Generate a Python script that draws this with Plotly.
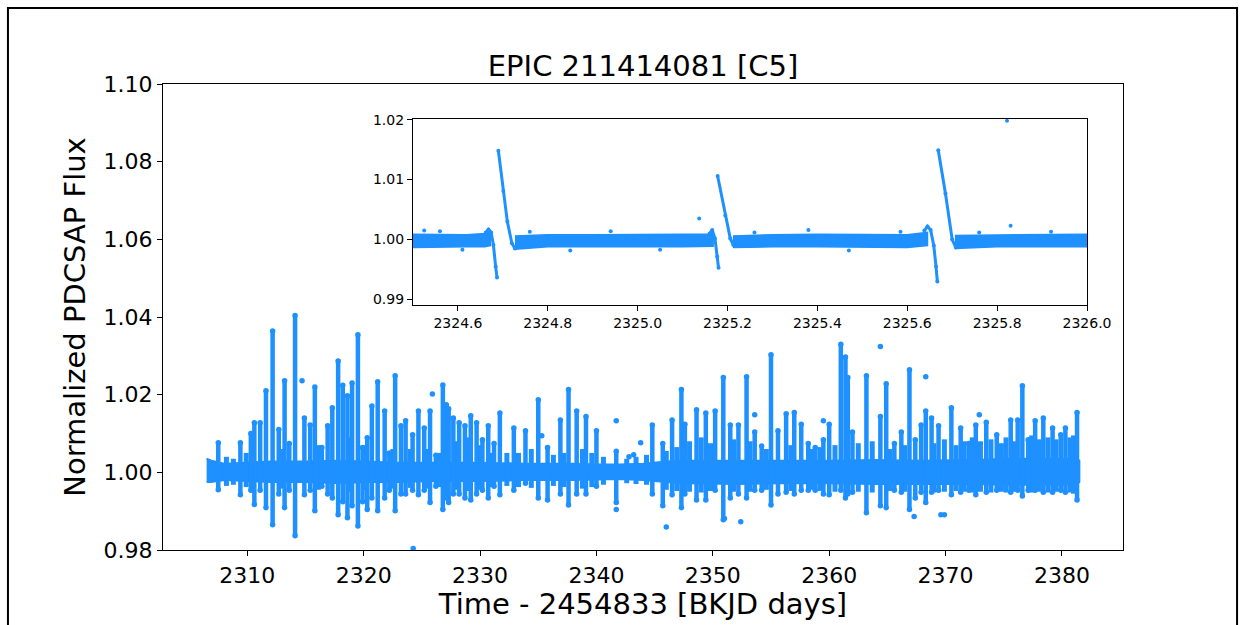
import plotly.graph_objects as go

BLUE = "#1E90FF"
FONT = "DejaVu Sans"

# ---------------- main light curve ----------------
# tall columns (pulses): time, upper and lower extent of flux
spike_time = [2307.5, 2309.4, 2310.3, 2310.6, 2311.1, 2311.6, 2312.17, 2312.7, 2313.2, 2313.6,
              2314.1, 2314.9, 2315.4, 2315.8, 2316.4, 2316.9, 2317.3, 2317.8, 2318.2, 2318.6,
              2319.0, 2319.5, 2319.9, 2320.3, 2320.7, 2321.2, 2321.8, 2322.2, 2322.7, 2323.2,
              2323.6, 2324.2, 2324.7, 2325.2, 2325.7, 2326.2, 2326.8, 2327.1, 2327.3, 2327.7,
              2328.2, 2328.7, 2329.2, 2329.7, 2330.2, 2330.7, 2331.2, 2331.7, 2332.9, 2333.9,
              2335.0, 2335.8, 2336.9, 2337.6, 2338.3, 2339.1, 2340.0, 2341.7, 2344.8, 2345.7,
              2346.5, 2347.3, 2347.6, 2348.6, 2349.4, 2350.2, 2350.9, 2351.5, 2352.2, 2352.9,
              2353.6, 2354.2, 2355.0, 2355.6, 2356.3, 2357.0, 2357.6, 2358.2, 2358.8, 2359.5,
              2360.0, 2361.0, 2361.4, 2361.6, 2362.0, 2363.2, 2364.4, 2364.9, 2365.6, 2366.2,
              2366.9, 2367.4, 2367.9, 2368.3, 2368.8, 2369.4, 2370.5, 2371.3, 2372.0, 2372.6,
              2373.5, 2374.4, 2375.6, 2376.2, 2376.6, 2377.1, 2377.7, 2378.4, 2379.2, 2379.9,
              2380.3, 2381.3]
spike_top = [1.0076, 1.0076, 1.0100, 1.0128, 1.0128, 1.0210, 1.0364, 1.0110, 1.0236, 1.0074,
             1.0404, 1.0140, 1.0122, 1.0220, 1.0064, 1.0120, 1.0166, 1.0287, 1.0224, 1.0197,
             1.0230, 1.0354, 1.0064, 1.0089, 1.0171, 1.0233, 1.0158, 1.0050, 1.0249, 1.0120,
             1.0133, 1.0097, 1.0158, 1.0114, 1.0158, 1.0044, 1.0225, 1.0174, 1.0164, 1.0140,
             1.0128, 1.0120, 1.0146, 1.0128, 1.0084, 1.0120, 1.0074, 1.0153, 1.0114, 1.0107,
             1.0187, 1.0064, 1.0135, 1.0213, 1.0158, 1.0144, 1.0107, 1.0054, 1.0122, 1.0074,
             1.0135, 1.0213, 1.0124, 1.0161, 1.0153, 1.0158, 1.0244, 1.0122, 1.0122, 1.0246,
             1.0104, 1.0068, 1.0303, 1.0107, 1.0151, 1.0154, 1.0124, 1.0074, 1.0064, 1.0084,
             1.0124, 1.0330, 1.0297, 1.0244, 1.0104, 1.0249, 1.0144, 1.0228, 1.0074, 1.0104,
             1.0264, 1.0084, 1.0122, 1.0158, 1.0140, 1.0120, 1.0166, 1.0114, 1.0074, 1.0122,
             1.0129, 1.0097, 1.0135, 1.0135, 1.0223, 1.0084, 1.0133, 1.0140, 1.0114, 1.0097,
             1.0114, 1.0154]
spike_bottom = [0.9955, 0.9942, 0.9954, 0.9917, 0.9954, 0.9909, 0.9865, 0.9944, 0.9909, 0.9954,
                0.9837, 0.9942, 0.9954, 0.9901, 0.9964, 0.9944, 0.9934, 0.9891, 0.9924, 0.9883,
                0.9914, 0.9862, 0.9924, 0.9904, 0.9934, 0.9901, 0.9934, 0.9954, 0.9901, 0.9944,
                0.9944, 0.9954, 0.9942, 0.9954, 0.9922, 0.9964, 0.9904, 0.9934, 0.9922, 0.9944,
                0.9944, 0.9934, 0.9929, 0.9944, 0.9954, 0.9934, 0.9964, 0.9942, 0.9954, 0.9972,
                0.9934, 0.9929, 0.9944, 0.9916, 0.9944, 0.9944, 0.9964, 0.9922, 0.9944, 0.9914,
                0.9942, 0.9909, 0.9944, 0.9929, 0.9929, 0.9954, 0.9878, 0.9934, 0.9944, 0.9934,
                0.9954, 0.9954, 0.9916, 0.9944, 0.9949, 0.9944, 0.9954, 0.9954, 0.9954, 0.9944,
                0.9942, 0.9954, 0.9934, 0.9944, 0.9949, 0.9896, 0.9914, 0.9909, 0.9954, 0.9949,
                0.9904, 0.9934, 0.9949, 0.9922, 0.9949, 0.9954, 0.9942, 0.9949, 0.9954, 0.9942,
                0.9949, 0.9954, 0.9949, 0.9954, 0.9939, 0.9954, 0.9954, 0.9949, 0.9949, 0.9954,
                0.9949, 0.9929]

# short columns that roughen the baseline
minor_time = [2308.2, 2308.8, 2309.9, 2312.9, 2316.1, 2318.9, 2320.0, 2322.5, 2324.0, 2325.5,
              2326.5, 2328.0, 2329.0, 2330.0, 2331.0, 2332.3, 2333.3, 2334.4, 2336.3, 2337.2,
              2338.8, 2339.6, 2340.6, 2342.6, 2343.4, 2344.3, 2346.0, 2346.9, 2348.0, 2349.0,
              2349.8, 2351.8, 2353.2, 2354.6, 2356.7, 2358.5, 2359.2, 2360.5, 2362.5, 2363.7,
              2365.2, 2366.5, 2369.0, 2369.9, 2370.9, 2371.6, 2372.3, 2373.0, 2373.9, 2374.8,
              2375.2, 2375.9, 2377.4, 2378.0, 2378.8, 2379.5, 2380.7, 2381.0]
minor_top = [1.0040, 1.0035, 1.0050, 1.0060, 1.0070, 1.0090, 1.0070, 1.0060, 1.0060, 1.0060,
             1.0050, 1.0080, 1.0090, 1.0070, 1.0050, 1.0050, 1.0050, 1.0060, 1.0045, 1.0050,
             1.0060, 1.0050, 1.0040, 1.0035, 1.0040, 1.0045, 1.0055, 1.0065, 1.0080, 1.0090,
             1.0075, 1.0085, 1.0080, 1.0060, 1.0070, 1.0060, 1.0065, 1.0070, 1.0075, 1.0080,
             1.0060, 1.0070, 1.0075, 1.0085, 1.0070, 1.0080, 1.0090, 1.0080, 1.0085, 1.0075,
             1.0090, 1.0080, 1.0095, 1.0085, 1.0090, 1.0085, 1.0090, 1.0095]
minor_bottom = [0.9965, 0.9968, 0.9962, 0.9958, 0.9955, 0.9950, 0.9955, 0.9958, 0.9960, 0.9958,
                0.9962, 0.9955, 0.9952, 0.9955, 0.9962, 0.9965, 0.9962, 0.9960, 0.9965, 0.9962,
                0.9958, 0.9962, 0.9968, 0.9972, 0.9970, 0.9968, 0.9955, 0.9952, 0.9950, 0.9948,
                0.9952, 0.9950, 0.9950, 0.9955, 0.9952, 0.9955, 0.9952, 0.9950, 0.9950, 0.9948,
                0.9952, 0.9950, 0.9948, 0.9950, 0.9952, 0.9950, 0.9948, 0.9950, 0.9948, 0.9950,
                0.9948, 0.9950, 0.9948, 0.9950, 0.9948, 0.9950, 0.9948, 0.9945]

# isolated points
dot_time = [2314.7, 2325.9, 2324.25, 2341.7, 2341.7, 2343.8, 2346.0, 2351.0, 2352.4, 2353.6,
            2359.5, 2364.4, 2367.3, 2368.3, 2369.6, 2369.9, 2372.9, 2335.3, 2342.8, 2343.2]
dot_flux = [1.0236, 1.0202, 0.9804, 1.0133, 0.9904, 1.0076, 0.9859, 0.9881, 0.9873, 1.0148,
            1.0133, 1.0324, 0.9886, 1.0246, 0.9891, 0.9891, 1.0148, 1.0094, 1.0040, 1.0045]

# baseline band
band_time = [2306.5, 2306.9, 2308.0, 2310.0, 2312.0, 2315.0, 2318.0, 2320.0, 2323.0, 2326.0,
             2330.0, 2334.0, 2338.0, 2340.0, 2342.0, 2344.0, 2346.0, 2348.0, 2352.0, 2356.0,
             2360.0, 2364.0, 2368.0, 2372.0, 2376.0, 2380.0, 2381.2, 2381.5]
band_hi = [1.0035, 1.0030, 1.0022, 1.0025, 1.0028, 1.0028, 1.0030, 1.0028, 1.0025, 1.0025,
           1.0025, 1.0022, 1.0022, 1.0020, 1.0020, 1.0022, 1.0028, 1.0030, 1.0030, 1.0030,
           1.0030, 1.0032, 1.0030, 1.0032, 1.0035, 1.0035, 1.0035, 1.0030]
band_lo = [0.9975, 0.9975, 0.9980, 0.9978, 0.9975, 0.9975, 0.9972, 0.9975, 0.9975, 0.9978,
           0.9978, 0.9980, 0.9980, 0.9982, 0.9983, 0.9980, 0.9975, 0.9972, 0.9970, 0.9972,
           0.9972, 0.9970, 0.9970, 0.9970, 0.9968, 0.9968, 0.9968, 0.9975]

# ---------------- inset (zoom 2324.5 - 2326.0) ----------------
inset_band_segments = [
    [2324.500, 2324.560, 2324.620, 2324.660, 2324.672],
    [2324.727, 2324.800, 2324.900, 2325.000, 2325.100, 2325.168],
    [2325.212, 2325.300, 2325.400, 2325.500, 2325.600, 2325.645],
    [2325.706, 2325.800, 2325.900, 2326.000],
]
inset_band_hi = [
    [1.0009, 1.0008, 1.0008, 1.0010, 1.0012],
    [1.0006, 1.0008, 1.0008, 1.0009, 1.0009, 1.0009],
    [1.0006, 1.0008, 1.0009, 1.0008, 1.0008, 1.0012],
    [1.0007, 1.0008, 1.0009, 1.0009],
]
inset_band_lo = [
    [0.9987, 0.9988, 0.9988, 0.9988, 0.9990],
    [0.9984, 0.9988, 0.9988, 0.9988, 0.9988, 0.9989],
    [0.9987, 0.9988, 0.9988, 0.9988, 0.9987, 0.9990],
    [0.9985, 0.9988, 0.9988, 0.9988],
]
# pulse shapes: pre-bump falling into the dip, then jump to peak and linear decay
dip_time = [
    [2324.662, 2324.668, 2324.674, 2324.679, 2324.684, 2324.687],
    [2325.160, 2325.166, 2325.172, 2325.177, 2325.180],
    [2325.638, 2325.645, 2325.652, 2325.659, 2325.664, 2325.667],
]
dip_flux = [
    [1.0012, 1.0017, 1.0012, 0.9991, 0.9955, 0.9937],
    [1.0010, 1.0016, 1.0002, 0.9972, 0.9953],
    [1.0015, 1.0022, 1.0016, 0.9990, 0.9955, 0.9930],
]
decay_time = [
    [2324.690, 2324.701, 2324.710, 2324.720, 2324.727],
    [2325.178, 2325.195, 2325.206, 2325.213],
    [2325.669, 2325.685, 2325.700, 2325.708],
]
decay_flux = [
    [1.0148, 1.0081, 1.0030, 0.9994, 0.9985],
    [1.0106, 1.0040, 1.0002, 0.9991],
    [1.0149, 1.0077, 1.0000, 0.9987],
]
inset_dot_time = [2325.137, 2325.822, 2325.830, 2324.525, 2324.940, 2325.380, 2325.585, 2324.560,
                  2324.610, 2324.760, 2324.850, 2325.050, 2325.260, 2325.470, 2325.760, 2325.920]
inset_dot_flux = [1.0035, 1.0198, 1.0023, 1.0015, 1.0014, 1.0016, 1.0013, 1.0014,
                  0.9983, 1.0013, 0.9982, 0.9983, 1.0012, 0.9982, 1.0012, 1.0013]

fig = go.Figure()

# main band polygon
fig.add_trace(go.Scatter(
    x=band_time + band_time[::-1], y=band_hi + band_lo[::-1],
    fill="toself", fillcolor=BLUE, mode="lines", line=dict(color=BLUE, width=2),
    hoverinfo="skip", showlegend=False))

def columns(ts, tops, bots):
    xs, ys = [], []
    for t, a, b in zip(ts, tops, bots):
        xs += [t, t, None]
        ys += [b, a, None]
    return xs, ys

mx, my = columns(minor_time, minor_top, minor_bottom)
fig.add_trace(go.Scatter(x=mx, y=my, mode="lines", line=dict(color=BLUE, width=5),
                         hoverinfo="skip", showlegend=False))
sx, sy = columns(spike_time, spike_top, spike_bottom)
fig.add_trace(go.Scatter(x=sx, y=sy, mode="lines", line=dict(color=BLUE, width=4.5),
                         hoverinfo="skip", showlegend=False))
fig.add_trace(go.Scatter(x=spike_time + spike_time, y=spike_top + spike_bottom, mode="markers",
                         marker=dict(color=BLUE, size=5.5), hoverinfo="skip", showlegend=False))
fig.add_trace(go.Scatter(x=dot_time, y=dot_flux, mode="markers",
                         marker=dict(color=BLUE, size=5.5), showlegend=False))

# inset band
ibx, iby = [], []
for ts, hi, lo in zip(inset_band_segments, inset_band_hi, inset_band_lo):
    ibx += ts + ts[::-1] + [None]
    iby += hi + lo[::-1] + [None]
fig.add_trace(go.Scatter(x=ibx, y=iby, fill="toself", fillcolor=BLUE, mode="lines",
                         line=dict(color=BLUE, width=1.5), xaxis="x2", yaxis="y2",
                         hoverinfo="skip", showlegend=False))
for ts, fs in list(zip(dip_time, dip_flux)) + list(zip(decay_time, decay_flux)):
    fig.add_trace(go.Scatter(x=ts, y=fs, mode="lines+markers", xaxis="x2", yaxis="y2",
                             line=dict(color=BLUE, width=3), marker=dict(color=BLUE, size=4),
                             showlegend=False))
fig.add_trace(go.Scatter(x=inset_dot_time, y=inset_dot_flux, mode="markers", xaxis="x2", yaxis="y2",
                         marker=dict(color=BLUE, size=4), showlegend=False))

axis_common = dict(showline=True, linecolor="black", linewidth=1.2, mirror=True,
                   ticks="outside", tickcolor="black", ticklen=5, showgrid=False, zeroline=False)

fig.update_layout(
    width=1245, height=625,
    margin=dict(l=163, r=122, t=84, b=75),
    paper_bgcolor="white", plot_bgcolor="white",
    font=dict(family=FONT, color="black"),
    title=dict(text="EPIC 211414081 [C5]", x=0.5, xanchor="center", y=0.895, yanchor="middle",
               xref="paper", font=dict(size=29, family=FONT)),
    xaxis=dict(range=[2302.75, 2385.25], tickvals=[2310, 2320, 2330, 2340, 2350, 2360, 2370, 2380],
               tickfont=dict(size=22), title=dict(text="Time - 2454833 [BKJD days]",
               font=dict(size=29), standoff=0), **axis_common),
    yaxis=dict(range=[0.98, 1.10], tickvals=[0.98, 1.00, 1.02, 1.04, 1.06, 1.08, 1.10],
               tickformat=".2f", tickfont=dict(size=22),
               title=dict(text="Normalized PDCSAP Flux", font=dict(size=29), standoff=9),
               **axis_common),
    xaxis2=dict(domain=[0.2604, 0.9625], anchor="y2", range=[2324.5, 2326.0],
                tickvals=[2324.6, 2324.8, 2325.0, 2325.2, 2325.4, 2325.6, 2325.8, 2326.0],
                tickformat=".1f", tickfont=dict(size=14), **axis_common),
    yaxis2=dict(domain=[0.5258, 0.9249], anchor="x2", range=[0.9891, 1.0201],
                tickvals=[0.99, 1.00, 1.01, 1.02], tickformat=".2f", tickfont=dict(size=14),
                **axis_common),
    shapes=[dict(type="rect", xref="paper", yref="paper", x0=-0.1615, x1=1.1188, y0=-0.2, y1=1.163,
                 line=dict(color="black", width=2), fillcolor="rgba(0,0,0,0)", layer="above")],
)

fig.write_html("out.html")
